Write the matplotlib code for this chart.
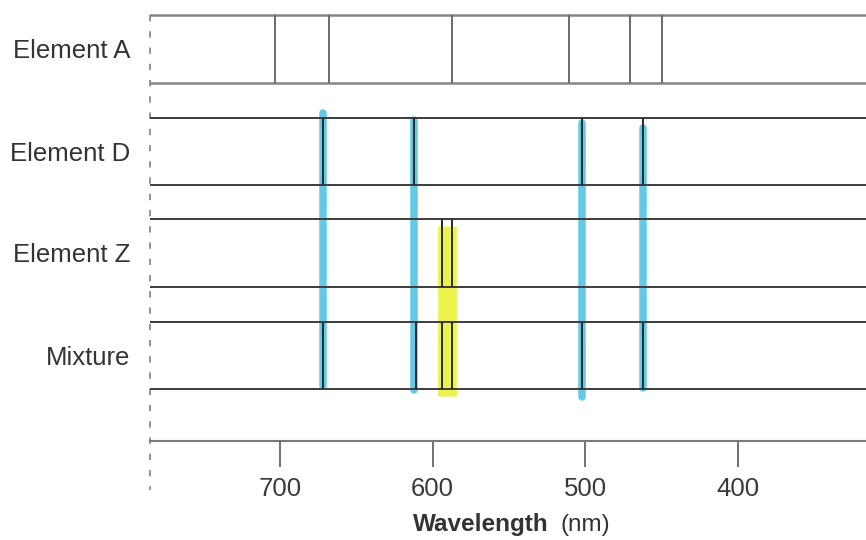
import matplotlib.pyplot as plt

# line positions (nm)
row_labels = ["Element A", "Element D", "Element Z", "Mixture"]
element_a = [703, 668, 587, 511, 471, 450]
element_d = [672, 612, 502, 462]
element_z = [594, 587]
mixture = [672, 611, 594, 587, 502, 462]
spectra = [element_a, element_d, element_z, mixture]

tick_values = [700, 600, 500, 400]

# hand-drawn marker strokes (cyan over D lines, yellow over Z pair)
cyan_marks = [672, 612, 502, 462]
cyan_top = [113, 120, 123, 128]
cyan_bottom = [386, 390, 397, 388]
yellow_mark = 590.5

# layout, in pixel rows of the 540 px tall figure
row_top = [15, 118, 219, 322]
row_bottom = [83, 185, 287, 389]
axis_y = 441

plt.rcParams["font.family"] = ["Liberation Sans", "DejaVu Sans"]

fig = plt.figure(figsize=(8.66, 5.4), dpi=100)
ax = fig.add_axes([150 / 866, 1 - axis_y / 540, 716 / 866, axis_y / 540])
ax.set_xlim(785.1, 316.2)
ax.set_ylim(axis_y, 0)

# marker highlights underneath the ink
ax.vlines(cyan_marks, cyan_top, cyan_bottom, color="#5bc6e4", lw=5.4,
          alpha=0.95, capstyle="round", zorder=1)
ax.vlines([yellow_mark], [226], [396], color="#eaf23a", lw=13.5,
          alpha=0.9, capstyle="butt", zorder=1)

for i, lines in enumerate(spectra):
    if i == 0:
        frame_col, line_col, lw = "#858585", "#6a6a6a", 1.8
    else:
        frame_col, line_col, lw = "#3c3c3c", "#2a2a2a", 1.4
    ax.axhline(row_top[i], color=frame_col, lw=lw, zorder=3)
    ax.axhline(row_bottom[i], color=frame_col, lw=lw, zorder=3)
    ax.vlines(lines, row_top[i], row_bottom[i], color=line_col, lw=1.4, zorder=4)

# dashed left guide, runs down past the axis
ax.plot([0, 0], [15, 490], transform=ax.get_yaxis_transform(), clip_on=False,
        color="#8a8a8a", lw=1.3, ls=(0, (3.5, 5.5)))

for side in ["top", "left", "right"]:
    ax.spines[side].set_visible(False)
ax.spines["bottom"].set_color("#7a7a7a")
ax.spines["bottom"].set_linewidth(1.5)

ax.set_xticks(tick_values)
ax.set_xticklabels([str(v) for v in tick_values])
ax.tick_params(axis="x", length=18.7, width=1.3, color="#666666", pad=7,
               labelsize=18.5, labelcolor="#3a3a3a")

centers = [(t + b) / 2 for t, b in zip(row_top, row_bottom)]
ax.set_yticks(centers)
ax.set_yticklabels(row_labels)
ax.tick_params(axis="y", length=0, pad=14.4, labelsize=18.5, labelcolor="#333333")

fig.text(413 / 866, 1 - 525 / 540, "Wavelength", fontsize=17.5,
         fontweight="bold", color="#333333", ha="left", va="center")
fig.text(560 / 866, 1 - 525 / 540, "(nm)", fontsize=17.5,
         color="#333333", ha="left", va="center")

fig.savefig("out.png", dpi=100)
